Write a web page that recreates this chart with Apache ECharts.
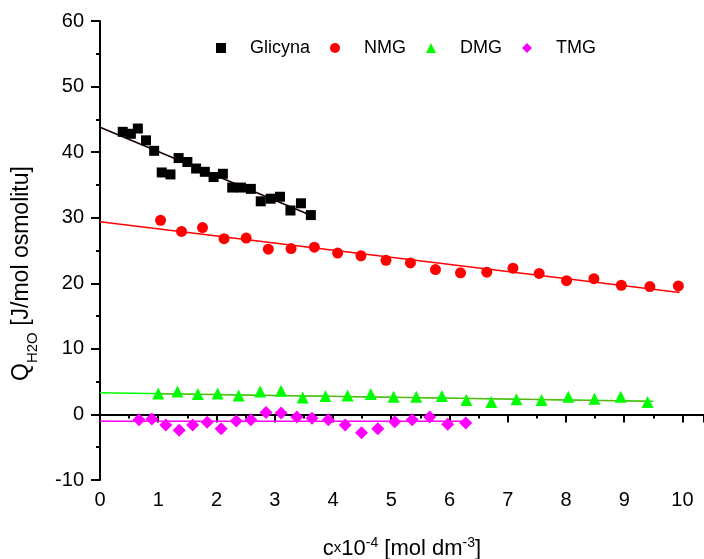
<!DOCTYPE html>
<html>
<head>
<meta charset="utf-8">
<script src="https://cdn.jsdelivr.net/npm/echarts@6/dist/echarts.min.js"></script>
<style>
  html, body { margin: 0; padding: 0; background: #fff; }
  #chart { width: 704px; height: 559px; }
</style>
</head>
<body>
<div id="chart"></div>
<script>
// punkty pomiarowe [c x 10^-4, Q]
const glicyna = [
  [0.39, 43.1], [0.53, 42.8], [0.65, 43.6], [0.79, 41.8], [0.93, 40.2],
  [1.06, 36.9], [1.21, 36.6], [1.35, 39.1], [1.50, 38.5], [1.65, 37.5],
  [1.80, 37.0], [1.95, 36.2], [2.11, 36.7], [2.27, 34.6], [2.42, 34.6],
  [2.59, 34.4], [2.76, 32.5], [2.93, 32.9], [3.09, 33.2], [3.27, 31.1],
  [3.45, 32.2], [3.62, 30.4]
]
const nmg = [
  [1.04, 29.6], [1.40, 27.9], [1.76, 28.5], [2.13, 26.8], [2.51, 26.9],
  [2.89, 25.2], [3.28, 25.3], [3.68, 25.5], [4.08, 24.6], [4.48, 24.2],
  [4.91, 23.5], [5.33, 23.1], [5.76, 22.1], [6.19, 21.6], [6.64, 21.7],
  [7.09, 22.3], [7.54, 21.5], [8.01, 20.4], [8.48, 20.7], [8.95, 19.7],
  [9.44, 19.5], [9.93, 19.6]
]
const dmg = [
  [1.00, 3.2], [1.33, 3.5], [1.68, 3.1], [2.02, 3.2], [2.38, 2.9],
  [2.75, 3.5], [3.11, 3.6], [3.48, 2.6], [3.87, 2.8], [4.25, 2.9],
  [4.65, 3.1], [5.04, 2.7], [5.43, 2.7], [5.87, 2.8], [6.29, 2.2],
  [6.72, 1.9], [7.15, 2.3], [7.58, 2.2], [8.04, 2.7], [8.49, 2.4],
  [8.94, 2.7], [9.40, 1.9]
]
const tmg = [
  [0.67, -0.8], [0.89, -0.7], [1.13, -1.6], [1.36, -2.4], [1.59, -1.6],
  [1.84, -1.2], [2.08, -2.2], [2.34, -1.0], [2.59, -0.8], [2.85, 0.3],
  [3.11, 0.2], [3.38, -0.4], [3.64, -0.6], [3.92, -0.8], [4.21, -1.6],
  [4.49, -2.8], [4.77, -2.2], [5.06, -1.1], [5.36, -0.8], [5.66, -0.4],
  [5.97, -1.5], [6.28, -1.3]
]

// proste dopasowania (konce odcinkow)
const fitGlicyna = [[0, 43.8], [3.69, 30.1]]
const fitNmg = [[0, 29.4], [9.95, 18.6]]
const fitDmg = [[0, 3.3], [9.5, 2.0]]
const fitDmgInner = [[1.0, 3.15], [9.45, 2.0]]
const fitTmg = [[0, -1.05], [6.35, -1.05]]

const names = ['Glicyna', 'NMG', 'DMG', 'TMG']
const colors = ['#000000', '#ff0000', '#00ff00', '#ff00ff']

const font = 'Liberation Sans, Arial, sans-serif'

const chart = echarts.init(document.getElementById('chart'))

function scatter(name, data, symbol, size, color) {
  return {
    name, type: 'scatter', data, symbol, symbolSize: size,
    itemStyle: { color, opacity: 1 }, z: 3
  }
}
function fit(name, data, color, width) {
  return {
    name, type: 'line', data, symbol: 'none', silent: true,
    lineStyle: { color, width: width || 1.5 }, z: 2
  }
}

chart.setOption({
  animation: false,
  grid: { left: 100, right: 0, top: 21, bottom: 79, outerBoundsMode: 'none', containLabel: false },
  legend: {
    left: 211, top: 34, itemGap: 20, itemWidth: 10, itemHeight: 10,
    data: [
      { name: names[0], icon: 'rect' },
      { name: names[1], icon: 'circle' },
      { name: names[2], icon: 'triangle' },
      { name: names[3], icon: 'diamond' }
    ],
    textStyle: { fontFamily: font, fontSize: 18, color: '#000', padding: [0, 0, 0, 19] }
  },
  xAxis: {
    type: 'value', min: 0, max: 10.37, interval: 1,
    name: '{a|c}{x|x}{a|10}{p|-4}{a| [mol dm}{p|-3}{a|]}',
    nameLocation: 'middle', nameGap: 56,
    nameTextStyle: {
      rich: {
        a: { fontFamily: font, fontSize: 22, color: '#000', lineHeight: 24, verticalAlign: 'bottom' },
        x: { fontFamily: font, fontSize: 15, color: '#000', lineHeight: 24, verticalAlign: 'middle' },
        p: { fontFamily: font, fontSize: 14, color: '#000', lineHeight: 16, verticalAlign: 'top' }
      }
    },
    axisLine: { lineStyle: { color: '#000', width: 2 } },
    axisTick: { length: 8, lineStyle: { color: '#000', width: 2 } },
    minorTick: { show: true, splitNumber: 2, length: 4, lineStyle: { color: '#000', width: 2 } },
    splitLine: { show: false },
    axisLabel: {
      margin: 10, fontFamily: font, fontSize: 20, color: '#000',
      formatter: v => (Number.isInteger(v) ? String(v) : '')
    }
  },
  yAxis: {
    type: 'value', min: -10, max: 60, interval: 10,
    name: '{q|Q}{s|H2O}{a| [J/mol osmolitu]}',
    nameLocation: 'middle', nameGap: 60, nameRotate: 90,
    nameTextStyle: {
      padding: [0, 46, 0, 0],
      rich: {
        q: { fontFamily: font, fontSize: 23, color: '#000', lineHeight: 30, verticalAlign: 'top' },
        a: { fontFamily: font, fontSize: 23, color: '#000', lineHeight: 30, verticalAlign: 'top' },
        s: { fontFamily: font, fontSize: 15, color: '#000', lineHeight: 30, verticalAlign: 'bottom' }
      }
    },
    axisLine: { show: true, lineStyle: { color: '#000', width: 2 } },
    axisTick: { show: true, length: 9, lineStyle: { color: '#000', width: 2 } },
    minorTick: { show: true, splitNumber: 2, length: 4, lineStyle: { color: '#000', width: 2 } },
    splitLine: { show: false },
    axisLabel: { margin: 16, fontFamily: font, fontSize: 20, color: '#000' }
  },
  series: [
    fit('fit Glicyna', fitGlicyna, '#1a0000'),
    fit('fit NMG', fitNmg, colors[1]),
    fit('fit DMG', fitDmg, colors[2]),
    fit('fit DMG 2', fitDmgInner, '#7f9a20', 1),
    fit('fit TMG', fitTmg, colors[3]),
    scatter(names[0], glicyna, 'rect', 10, colors[0]),
    scatter(names[1], nmg, 'circle', 11, colors[1]),
    scatter(names[2], dmg, 'triangle', 12, colors[2]),
    scatter(names[3], tmg, 'diamond', 13, colors[3])
  ]
})
</script>
</body>
</html>
